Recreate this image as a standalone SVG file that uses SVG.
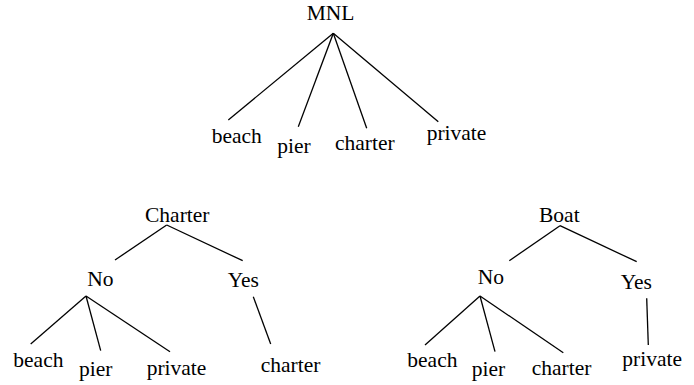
<svg xmlns="http://www.w3.org/2000/svg" width="694" height="385" viewBox="0 0 694 385">
<style>
text{font-family:"Liberation Serif","Times New Roman",serif;font-size:21.5px;fill:#000}
.c line{stroke:#000;stroke-width:1.3;fill:none}
</style>
<rect width="694" height="385" fill="#fff"/>
<g class="c" id="connectors">
<line x1="333.3" y1="33.3" x2="228.3" y2="120"/>
<line x1="333.3" y1="33.3" x2="298.3" y2="126.7"/>
<line x1="333.3" y1="33.3" x2="366.7" y2="128.3"/>
<line x1="333.3" y1="33.3" x2="438.3" y2="121.7"/>
<line x1="166.7" y1="225" x2="115" y2="260"/>
<line x1="166.7" y1="225" x2="242.7" y2="260.7"/>
<line x1="86" y1="296" x2="30.7" y2="344"/>
<line x1="86" y1="296" x2="100.7" y2="350.7"/>
<line x1="86" y1="296" x2="170" y2="351.7"/>
<line x1="253.3" y1="296.7" x2="270.7" y2="344"/>
<line x1="560" y1="225.7" x2="509.3" y2="260.7"/>
<line x1="560" y1="225.7" x2="636.7" y2="261.7"/>
<line x1="480" y1="296" x2="425" y2="345"/>
<line x1="480" y1="296" x2="495" y2="351.7"/>
<line x1="480" y1="296" x2="563.3" y2="352.7"/>
<line x1="646.7" y1="298.3" x2="648.3" y2="345"/>
</g>
<g id="mnl"><text x="306.7" y="20">MNL</text></g>
<g id="mnl-beach"><text x="211.7" y="143.3">beach</text></g>
<g id="mnl-pier"><text x="277.3" y="153.3">pier</text></g>
<g id="mnl-charter"><text x="335" y="150">charter</text></g>
<g id="mnl-private"><text x="426.7" y="140">private</text></g>
<g id="charter"><text x="145" y="221.7">Charter</text></g>
<g id="charter-no"><text x="87.3" y="286">No</text></g>
<g id="charter-yes"><text x="227.7" y="287.3">Yes</text></g>
<g id="c-beach"><text x="13.3" y="366.7">beach</text></g>
<g id="c-pier"><text x="79" y="376">pier</text></g>
<g id="c-private"><text x="146.7" y="375">private</text></g>
<g id="c-charter"><text x="260.7" y="371.7">charter</text></g>
<g id="boat"><text x="539" y="222.3">Boat</text></g>
<g id="boat-no"><text x="477.7" y="284.3">No</text></g>
<g id="boat-yes"><text x="620.7" y="289.3">Yes</text></g>
<g id="b-beach"><text x="407.3" y="366.7">beach</text></g>
<g id="b-pier"><text x="471.7" y="376">pier</text></g>
<g id="b-charter"><text x="531.7" y="375">charter</text></g>
<g id="b-private"><text x="622.3" y="366">private</text></g>
</svg>
